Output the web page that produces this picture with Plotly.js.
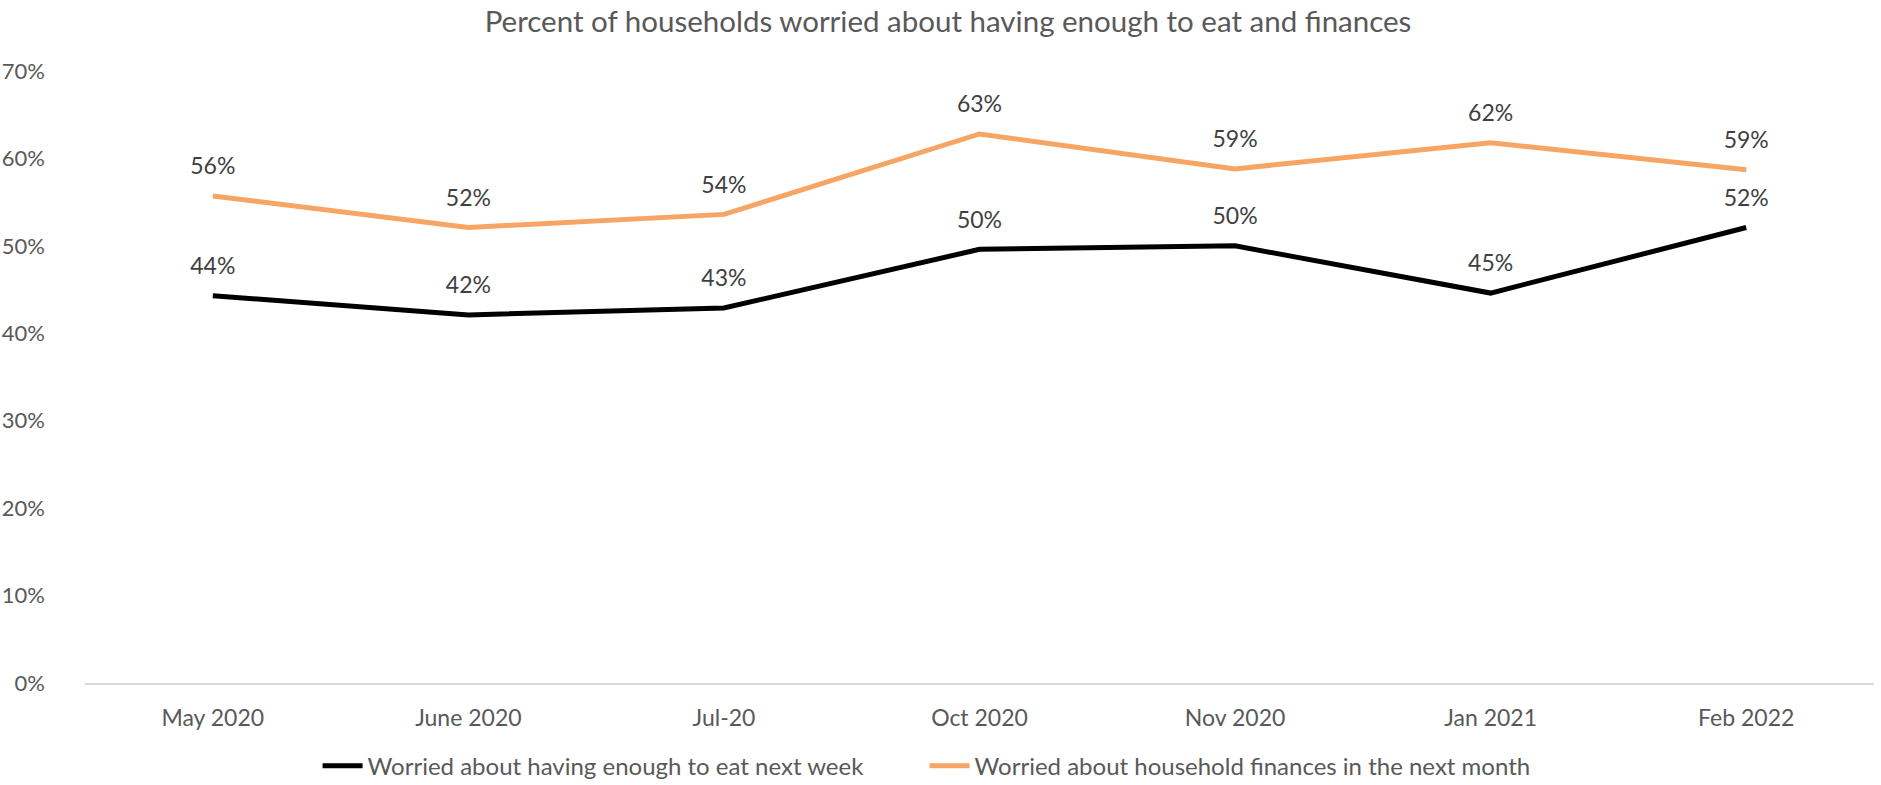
<!DOCTYPE html>
<html>
<head>
<meta charset="utf-8">
<script src="https://cdn.plot.ly/plotly-3.0.1.min.js"></script>
<style>html,body{margin:0;padding:0;background:#fff;}#chart{width:1881px;height:785px;}</style>
</head>
<body>
<div id="chart"></div>
<script>
const categories = ["May 2020", "June 2020", "Jul-20", "Oct 2020", "Nov 2020", "Jan 2021", "Feb 2022"];
const eatNextWeek = [44.3, 42.1, 42.9, 49.6, 50.0, 44.6, 52.1];
const financesNextMonth = [55.7, 52.1, 53.6, 62.8, 58.8, 61.8, 58.7];
const seriesNames = ["Worried about having enough to eat next week", "Worried about household finances in the next month"];
const titleText = "Percent of households worried about having enough to eat and finances";

const FONT = "Lato, 'Open Sans', 'DejaVu Sans', sans-serif";
function series(y, name, color) {
  return {
    x: categories, y: y, name: name, type: "scatter", mode: "lines+markers+text",
    line: {color: color, width: 5},
    marker: {size: 24, color: "rgba(0,0,0,0)", line: {width: 0}},
    texttemplate: "%{y:.0f}%", textposition: "top center",
    textfont: {family: FONT, size: 23, color: "#404040"},
    hoverinfo: "x+y"
  };
}
const traces = [
  series(eatNextWeek, seriesNames[0], "#000000"),
  series(financesNextMonth, seriesNames[1], "#F6A564")
];
const layout = {
  width: 1881, height: 785,
  margin: {l: 85, r: 7, t: 71, b: 102, autoexpand: false},
  paper_bgcolor: "#ffffff", plot_bgcolor: "#ffffff",
  font: {family: FONT, size: 23, color: "#595959"},
  title: {text: titleText, x: 0.504, xref: "container", xanchor: "center", y: 0.972, yanchor: "middle",
          font: {family: FONT, size: 29.5, color: "#595959"}},
  xaxis: {type: "category", range: [-0.5, 6.5], showgrid: false, zeroline: false,
          showline: true, linecolor: "#d9d9d9", linewidth: 2, ticks: "", ticklen: 0,
          ticklabelstandoff: 13,
          tickfont: {family: FONT, size: 23, color: "#595959"}, fixedrange: true},
  yaxis: {range: [0, 70], dtick: 10, ticksuffix: "%", showgrid: false, zeroline: false,
          showline: false, ticks: "", ticklabelstandoff: 39,
          tickfont: {family: FONT, size: 22, color: "#595959"},
          fixedrange: true},
  showlegend: true,
  legend: {orientation: "h", x: 0.13, xanchor: "left", y: -0.136, yanchor: "middle",
           font: {family: FONT, size: 24, color: "#595959"}, itemwidth: 40, tracegroupgap: 0,
           entrywidth: 552, entrywidthmode: "pixels"}
};
Plotly.newPlot("chart", traces, layout, {displayModeBar: false, staticPlot: true});
</script>
</body>
</html>
